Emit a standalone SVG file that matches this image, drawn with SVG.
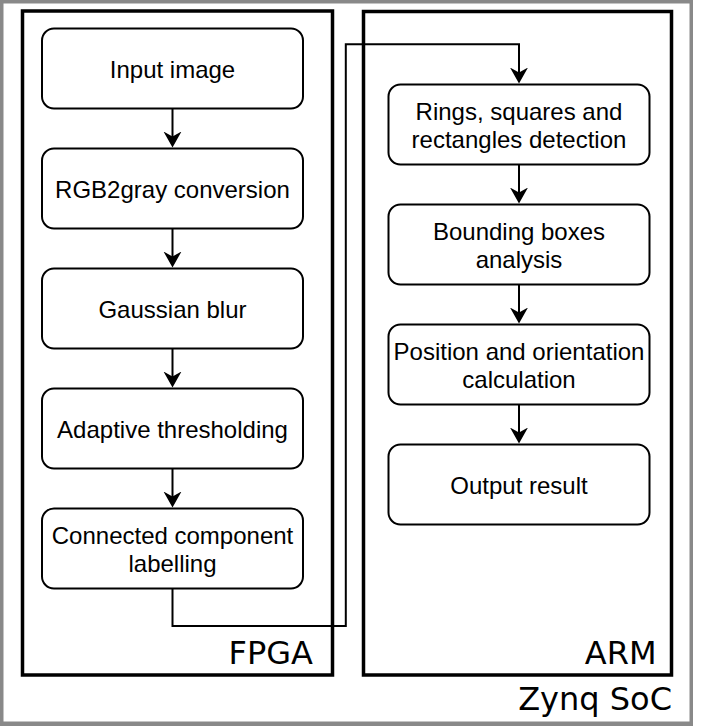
<svg xmlns="http://www.w3.org/2000/svg" width="706" height="726" viewBox="0 0 706 726">
<style>
.node rect{fill:#fff;stroke:#000;stroke-width:2}
.node text{font-family:"Liberation Sans",Arial,sans-serif;font-size:24px;fill:#000;text-anchor:middle}
.container{fill:none;stroke:#000;stroke-width:3.5}
.lbl{font-family:"DejaVu Sans",sans-serif;font-size:32px;fill:#000;text-anchor:end}
.edge{fill:none;stroke:#000;stroke-width:2}
</style>
<defs>
<marker id="arr" markerUnits="userSpaceOnUse" markerWidth="20" markerHeight="20" refX="10" refY="9" orient="auto" viewBox="0 0 20 20">
<path d="M0,0 L16,9 L0,18 L5,9 Z" fill="#000"/>
</marker>
</defs>
<rect x="0" y="0" width="706" height="726" fill="#fff"/>
<rect id="soc-frame" x="0" y="0" width="693" height="726" fill="#898989"/>
<rect x="3.5" y="3.5" width="686" height="718" fill="#fff"/>
<g id="fpga">
<rect class="container" x="22.5" y="11" width="310" height="664"/>
<text class="lbl" x="313" y="664">FPGA</text>
</g>
<g id="arm">
<rect class="container" x="363.5" y="11.5" width="308" height="663.5"/>
<text class="lbl" x="656.5" y="664">ARM</text>
</g>
<text class="lbl" x="672" y="710">Zynq SoC</text>
<g id="connectors">
<path class="edge" d="M172.5,108.5 V141.5" marker-end="url(#arr)"/>
<path class="edge" d="M172.5,228.5 V261.5" marker-end="url(#arr)"/>
<path class="edge" d="M172.5,348.5 V381.5" marker-end="url(#arr)"/>
<path class="edge" d="M172.5,468.5 V501.5" marker-end="url(#arr)"/>
<path class="edge" d="M172.5,588.5 V626 H345.8 V44.3 H519 V77.5" marker-end="url(#arr)"/>
<path class="edge" d="M519,164.5 V197.5" marker-end="url(#arr)"/>
<path class="edge" d="M519,284.5 V317.5" marker-end="url(#arr)"/>
<path class="edge" d="M519,404.5 V437.5" marker-end="url(#arr)"/>
</g>
<g id="n-input" class="node"><rect x="42" y="28.5" width="261" height="80" rx="12"/><text x="172.5" y="77.5">Input image</text></g>
<g id="n-rgb2gray" class="node"><rect x="42" y="148.5" width="261" height="80" rx="12"/><text x="172.5" y="197.5">RGB2gray conversion</text></g>
<g id="n-gauss" class="node"><rect x="42" y="268.5" width="261" height="80" rx="12"/><text x="172.5" y="317.5">Gaussian blur</text></g>
<g id="n-thresh" class="node"><rect x="42" y="388.5" width="261" height="80" rx="12"/><text x="172.5" y="437.5">Adaptive thresholding</text></g>
<g id="n-ccl" class="node"><rect x="42" y="508.5" width="261" height="80" rx="12"/><text x="172.5" y="543.5">Connected component</text><text x="172.5" y="572">labelling</text></g>
<g id="n-rings" class="node"><rect x="388.5" y="84.5" width="261" height="80" rx="12"/><text x="519" y="119.5">Rings, squares and</text><text x="519" y="148">rectangles detection</text></g>
<g id="n-bbox" class="node"><rect x="388.5" y="204.5" width="261" height="80" rx="12"/><text x="519" y="239.5">Bounding boxes</text><text x="519" y="268">analysis</text></g>
<g id="n-pos" class="node"><rect x="388.5" y="324.5" width="261" height="80" rx="12"/><text x="519" y="359.5">Position and orientation</text><text x="519" y="388">calculation</text></g>
<g id="n-out" class="node"><rect x="388.5" y="444.5" width="261" height="80" rx="12"/><text x="519" y="493.5">Output result</text></g>
</svg>
